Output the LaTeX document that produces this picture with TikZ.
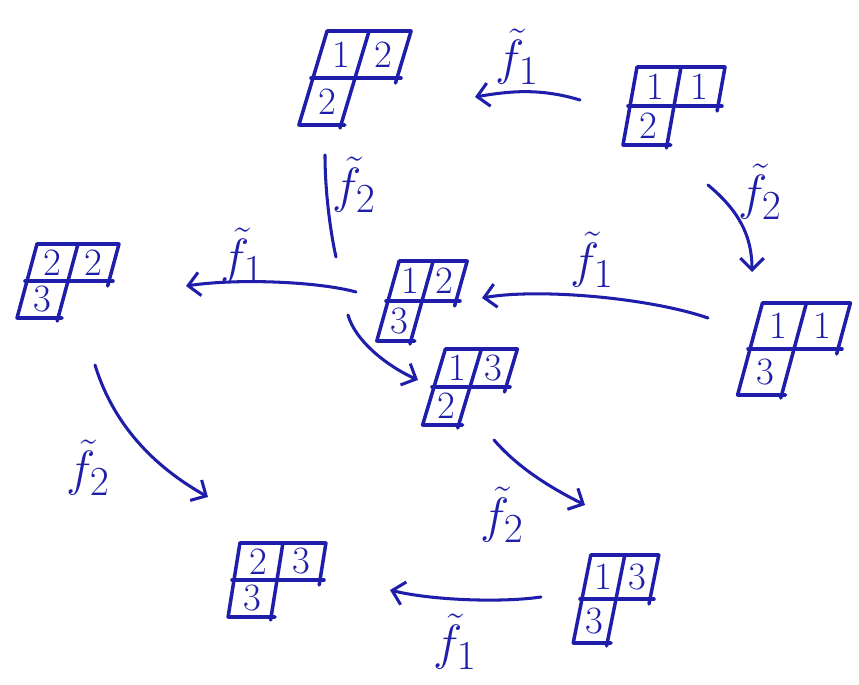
\documentclass[tikz,border=0pt]{standalone}
\usepackage{fontspec}
\usepackage{graphicx}
\usetikzlibrary{arrows.meta}
\definecolor{ink}{RGB}{30,30,170}
\newcommand{\flabel}[1]{\scalebox{1.7}{$\tilde{f}_{#1}$}}
\tikzset{
  tabline/.style={ink, line width=3pt, line cap=round, line join=round},
  digit/.style={text=ink, font=\fontsize{33}{35}\selectfont, inner sep=0pt},
  lbl/.style={text=ink, font=\fontsize{24.88}{30}\selectfont, inner sep=0pt},
  plain/.style={ink, line width=2.6pt, line cap=round},
  arr/.style={plain, -{Straight Barb[length=10pt,width=20pt]}},
  holder/.style={inner sep=0pt, minimum size=0pt},
  pics/tab/.style n args={6}{code={
    \begin{scope}[xslant=#3]
      \draw[tabline] (-#1,-#2) -- (#1,-#2) -- (#1,5);
      \draw[tabline] (-#1,-#2) -- (-#1,#2) -- (4,#2);
      \draw[tabline] (-#1-2,0) -- (#1+4,0);
      \draw[tabline] (0,-#2) -- (0,#2+3);
      \node[digit] (-a) at (-#1/2,-#2/2) {#4};
      \node[digit] (-b) at (#1/2,-#2/2) {#5};
      \node[digit] (-c) at (-#1/2,#2/2) {#6};
    \end{scope}
  }}
}
\begin{document}
\begin{tikzpicture}[x=0.03cm,y=-0.03cm]
\useasboundingbox (0,0) rectangle (859,685);
% tableaux
\node[holder] (T1) at (674,106) {};
\node[holder] (T2) at (355,78) {};
\node[holder] (T3) at (794,349) {};
\node[holder] (T4) at (422,301) {};
\node[holder] (T5) at (68,281) {};
\node[holder] (T6) at (470,387) {};
\node[holder] (T7) at (616,599) {};
\node[holder] (T8) at (277,580) {};
\pic (T1p) at (T1) {tab={44}{39}{0.18}{1}{1}{2}};
\pic (T2p) at (T2) {tab={42}{47}{0.30}{1}{2}{2}};
\pic (T3p) at (T3) {tab={44}{46}{0.27}{1}{1}{3}};
\pic (T4p) at (T4) {tab={34}{40}{0.28}{1}{2}{3}};
\pic (T5p) at (T5) {tab={41}{37}{0.27}{2}{2}{3}};
\pic (T6p) at (T6) {tab={36}{38}{0.30}{1}{3}{2}};
\pic (T7p) at (T7) {tab={34}{44}{0.20}{1}{3}{3}};
\pic (T8p) at (T8) {tab={43}{37}{0.16}{2}{3}{3}};
% connectors
\draw[arr] ([shift={(-94,-6)}]T1.center) .. controls +(-40,-12) and +(35,-6) .. ([shift={(120,19)}]T2.center);
\draw[arr] ([shift={(34,79)}]T1.center) .. controls +(30,25) and +(0,-37) .. ([shift={(-42,-77)}]T3.center);
\draw[arr] ([shift={(-86,-31)}]T3.center) .. controls +(-58,-20) and +(58,-10) .. ([shift={(60,-3)}]T4.center);
\coordinate (g1) at (336,257);
\coordinate (g2) at (348,315);
\draw[plain] ([shift={(-30,77)}]T2.center) .. controls +(0,35) and +(-6,-27) .. (g1);
\draw[arr] (g2) .. controls +(7,25) and +(-33,-15) .. ([shift={(-52,-7)}]T6.center);
\draw[arr] ([shift={(-66,-9)}]T4.center) .. controls +(-36,-10) and +(54,-8) .. ([shift={(118,5)}]T5.center);
\draw[arr] ([shift={(27,84)}]T5.center) .. controls +(20,65) and +(-48,-27) .. ([shift={(-69,-83)}]T8.center);
\draw[arr] ([shift={(24,53)}]T6.center) .. controls +(26,30) and +(-30,-15) .. ([shift={(-31,-94)}]T7.center);
\draw[arr] ([shift={(-75,-2)}]T7.center) .. controls +(-41,6) and +(40,10) .. ([shift={(113,10)}]T8.center);
% labels
\node[lbl] (L1) at (517,57) {\flabel{1}};
\node[lbl] (L2) at (760,192) {\flabel{2}};
\node[lbl] (L3) at (592,260) {\flabel{1}};
\node[lbl] (L4) at (354,185) {\flabel{2}};
\node[lbl] (L5) at (242,256) {\flabel{1}};
\node[lbl] (L6) at (88,468) {\flabel{2}};
\node[lbl] (L7) at (502,515) {\flabel{2}};
\node[lbl] (L8) at (455,642) {\flabel{1}};
\end{tikzpicture}
\end{document}
